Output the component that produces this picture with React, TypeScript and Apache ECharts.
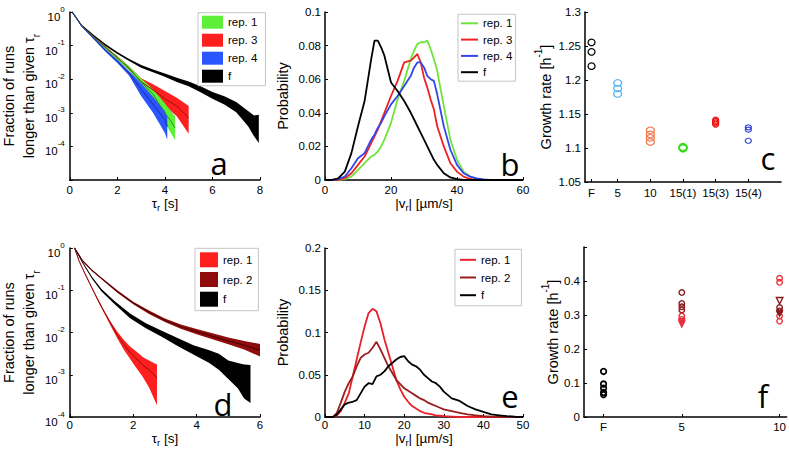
import React, { useEffect, useRef } from 'react';
import * as echarts from 'echarts';

// ---------------- Panel a : fraction of runs longer than tau_r (log10 values) ----------------
const aRep1X = [0.1, 0.5, 1, 1.5, 2, 2.5, 3, 3.5, 4, 4.25, 4.43];
const aRep1Hi = [0.02, -0.39, -0.72, -1.03, -1.32, -1.62, -1.98, -2.3, -2.72, -2.95, -3.1];
const aRep1Lo = [-0.02, -0.43, -0.78, -1.1, -1.42, -1.74, -2.18, -2.6, -3.3, -3.6, -3.82];
const aRep1Mean = [0, -0.41, -0.75, -1.06, -1.37, -1.68, -2.08, -2.45, -3.0, -3.25, -3.45];

const aRep3X = [0.1, 0.5, 1, 1.5, 2, 2.5, 3, 3.5, 4, 4.5, 5];
const aRep3Hi = [0.02, -0.39, -0.71, -1.02, -1.31, -1.62, -1.97, -2.15, -2.35, -2.55, -2.8];
const aRep3Lo = [-0.02, -0.43, -0.77, -1.09, -1.41, -1.74, -2.2, -2.5, -2.8, -3.1, -3.62];
const aRep3Mean = [0, -0.41, -0.74, -1.05, -1.36, -1.68, -2.08, -2.32, -2.58, -2.8, -3.15];

const aRep4X = [0.1, 0.5, 1, 1.5, 2, 2.5, 3, 3.5, 4, 4.1];
const aRep4Hi = [0.02, -0.4, -0.75, -1.1, -1.42, -1.76, -2.12, -2.52, -2.95, -3.1];
const aRep4Lo = [-0.02, -0.44, -0.81, -1.18, -1.52, -1.9, -2.5, -3.0, -3.6, -3.8];
const aRep4Mean = [0, -0.42, -0.78, -1.14, -1.47, -1.83, -2.3, -2.75, -3.2, -3.4];

const aFX = [0.1, 0.5, 1, 1.5, 2, 2.5, 3, 3.5, 4, 4.5, 5, 5.5, 6, 6.5, 7, 7.5, 7.75, 7.95];
const aFHi = [0.02, -0.38, -0.68, -0.95, -1.19, -1.4, -1.58, -1.71, -1.83, -1.96, -2.07, -2.21, -2.38, -2.51, -2.68, -2.95, -3.08, -3.06];
const aFLo = [-0.02, -0.42, -0.72, -1.01, -1.25, -1.46, -1.66, -1.79, -1.93, -2.08, -2.21, -2.39, -2.58, -2.75, -2.98, -3.4, -3.7, -3.9];

// ---------------- Panel b : speed distributions ----------------
const bX = [0, 2, 4, 6, 8, 10, 12, 14, 15, 16, 17, 18, 20, 22, 24, 26, 27, 28, 29, 30, 31, 32, 33, 34, 36, 38, 40, 42, 44, 46, 48, 50, 55, 60];
const bRep1 = [0, 0, 0, 0.0005, 0.002, 0.006, 0.01, 0.014, 0.015, 0.017, 0.02, 0.024, 0.034, 0.048, 0.059, 0.072, 0.077, 0.081, 0.082, 0.082, 0.083, 0.078, 0.072, 0.065, 0.044, 0.024, 0.012, 0.005, 0.002, 0.0006, 0.0002, 0, 0, 0];
const bRep3 = [0, 0, 0, 0.001, 0.004, 0.009, 0.014, 0.022, 0.026, 0.03, 0.035, 0.04, 0.05, 0.059, 0.07, 0.071, 0.073, 0.075, 0.07, 0.061, 0.055, 0.048, 0.042, 0.032, 0.02, 0.01, 0.005, 0.002, 0.0006, 0, 0, 0, 0, 0];
const bRep4 = [0, 0, 0.0005, 0.002, 0.007, 0.013, 0.016, 0.024, 0.027, 0.031, 0.034, 0.038, 0.045, 0.05, 0.056, 0.062, 0.067, 0.07, 0.07, 0.067, 0.062, 0.06, 0.059, 0.051, 0.032, 0.018, 0.009, 0.004, 0.002, 0.001, 0.0003, 0, 0, 0];
const bF = [0, 0, 0.001, 0.005, 0.016, 0.032, 0.047, 0.072, 0.083, 0.083, 0.079, 0.074, 0.058, 0.053, 0.047, 0.04, 0.036, 0.032, 0.028, 0.024, 0.02, 0.016, 0.012, 0.009, 0.004, 0.0015, 0.0005, 0, 0, 0, 0, 0, 0, 0];

// ---------------- Panel c : growth rates ----------------
const cCatPos = [0.2, 1, 2, 3, 4, 5];
const cCatLabels = ['F', '5', '10', '15(1)', '15(3)', '15(4)'];
const cF = [1.2553, 1.2414, 1.2204];
const c5 = [1.1957, 1.1875, 1.1795];
const c10 = [1.126, 1.12, 1.115, 1.109];
const c15r1 = [1.0995, 1.1005, 1.1015];
const c15r3 = [1.135, 1.137, 1.139, 1.141];
const c15r4 = [1.1304, 1.127, 1.1106];

// ---------------- Panel d : fraction of runs (log10 values) ----------------
const dRep1X = [0.15, 0.3, 0.5, 0.7, 0.9, 1.1, 1.3, 1.5, 1.7, 1.9, 2.1, 2.3, 2.5, 2.75];
const dRep1Hi = [0.02, -0.3, -0.62, -0.93, -1.22, -1.5, -1.76, -1.98, -2.17, -2.33, -2.45, -2.58, -2.66, -2.76];
const dRep1Lo = [-0.02, -0.34, -0.66, -0.97, -1.28, -1.57, -1.86, -2.14, -2.4, -2.62, -2.84, -3.05, -3.3, -3.72];
const dRep1Mean = [0, -0.32, -0.64, -0.95, -1.25, -1.53, -1.8, -2.06, -2.28, -2.47, -2.62, -2.77, -2.88, -3.08];

const dRep2X = [0.15, 0.4, 0.7, 1, 1.5, 2, 2.5, 3, 3.5, 4, 4.5, 5, 5.5, 6];
const dRep2Hi = [0.02, -0.28, -0.51, -0.7, -1.0, -1.27, -1.48, -1.67, -1.81, -1.92, -2.02, -2.12, -2.2, -2.27];
const dRep2Lo = [-0.02, -0.32, -0.55, -0.74, -1.06, -1.33, -1.56, -1.75, -1.91, -2.04, -2.16, -2.28, -2.4, -2.57];
const dRep2Mean = [0, -0.3, -0.53, -0.72, -1.03, -1.3, -1.52, -1.71, -1.86, -1.98, -2.09, -2.2, -2.3, -2.42];

const dFX = [0.15, 0.4, 0.7, 1, 1.4, 1.9, 2.4, 2.9, 3.4, 3.9, 4.4, 4.7, 5, 5.3, 5.5, 5.7];
const dFHi = [0.02, -0.32, -0.68, -0.97, -1.25, -1.55, -1.78, -1.96, -2.13, -2.3, -2.42, -2.5, -2.66, -2.72, -2.76, -2.77];
const dFLo = [-0.02, -0.36, -0.73, -1.03, -1.32, -1.66, -1.9, -2.1, -2.32, -2.52, -2.72, -2.88, -3.1, -3.32, -3.56, -3.67];

// ---------------- Panel e : speed distributions ----------------
const eX = [0, 2, 3, 4, 5, 6, 7, 8, 9, 10, 11, 12, 13, 14, 15, 16, 17, 18, 19, 20, 21, 22, 23, 24, 25, 26, 27, 28, 29, 30, 32, 34, 36, 38, 40, 42, 44, 46, 48, 50];
const eRep1 = [0, 0, 0.002, 0.007, 0.017, 0.028, 0.048, 0.068, 0.088, 0.107, 0.123, 0.128, 0.125, 0.111, 0.092, 0.076, 0.06, 0.044, 0.033, 0.024, 0.018, 0.013, 0.01, 0.007, 0.005, 0.004, 0.003, 0.002, 0.0015, 0.001, 0.0005, 0, 0, 0, 0, 0, 0, 0, 0, 0];
const eRep2 = [0, 0, 0.005, 0.017, 0.03, 0.04, 0.048, 0.06, 0.07, 0.074, 0.076, 0.082, 0.089, 0.08, 0.07, 0.06, 0.052, 0.044, 0.039, 0.034, 0.031, 0.028, 0.025, 0.022, 0.02, 0.017, 0.015, 0.013, 0.011, 0.009, 0.007, 0.005, 0.003, 0.002, 0.001, 0.0005, 0, 0, 0, 0];
const eF = [0, 0, 0.003, 0.009, 0.015, 0.017, 0.018, 0.02, 0.028, 0.036, 0.04, 0.039, 0.048, 0.05, 0.054, 0.06, 0.064, 0.068, 0.071, 0.072, 0.066, 0.062, 0.06, 0.056, 0.05, 0.046, 0.042, 0.04, 0.036, 0.03, 0.022, 0.019, 0.013, 0.009, 0.006, 0.003, 0.002, 0.001, 0.0003, 0];

// ---------------- Panel f : growth rates ----------------
const fCatPos = [1, 5, 10];
const fCatLabels = ['F', '5', '10'];
const fFCircles = [0.134, 0.097, 0.085, 0.072, 0.066];
const f5DarkCircles = [0.366, 0.334, 0.324, 0.315];
const f5RedCircles = [0.297, 0.287];
const f5RedTriangles = [0.279, 0.273];
const f10RedCircles = [0.408, 0.396, 0.297, 0.282];
const f10DarkCircles = [0.322, 0.312];
const f10DarkOpenTriangles = [0.342];
const f10DarkTriangles = [0.305];

const FONT = '"Liberation Sans", Arial, sans-serif';
const TICK_FS = 11.5;

const pow10 = (arr: number[]) => arr.map((v) => Math.pow(10, v));

function bandSeries(name: string, idx: number, xs: number[], loLog: number[], hiLog: number[], color: string) {
  const lo = pow10(loLog);
  const hi = pow10(hiLog);
  return {
    type: 'custom',
    name,
    xAxisIndex: idx,
    yAxisIndex: idx,
    data: xs.map((x, i) => [x, lo[i], hi[i]]),
    encode: { x: 0, y: [1, 2] },
    itemStyle: { color },
    silent: true,
    renderItem: (params: any, api: any) => {
      if (params.dataIndex !== 0) return;
      const top = xs.map((x, i) => api.coord([x, hi[i]]));
      const bot = xs.map((x, i) => api.coord([x, lo[i]])).reverse();
      return { type: 'polygon', shape: { points: top.concat(bot) }, style: { fill: color } };
    },
  };
}

function meanLine(idx: number, xs: number[], meanLog: number[], color: string) {
  const m = pow10(meanLog);
  return {
    type: 'line',
    xAxisIndex: idx,
    yAxisIndex: idx,
    data: xs.map((x, i) => [x, m[i]]),
    symbol: 'none',
    silent: true,
    lineStyle: { color, width: 1 },
  };
}

function curve(name: string, idx: number, xs: number[], ys: number[], color: string) {
  return {
    type: 'line',
    name,
    xAxisIndex: idx,
    yAxisIndex: idx,
    data: xs.map((x, i) => [x, ys[i]]),
    symbol: 'none',
    silent: true,
    itemStyle: { color },
    lineStyle: { color, width: 1.8 },
  };
}

function dots(idx: number, xPos: number, ys: number[], color: string, size: any, bw: number, symbol = 'circle', filled = false, rotate = 0) {
  return {
    type: 'scatter',
    xAxisIndex: idx,
    yAxisIndex: idx,
    data: ys.map((y) => [xPos, y]),
    symbol,
    symbolSize: size,
    symbolRotate: rotate,
    silent: true,
    itemStyle: { color: filled ? color : 'rgba(0,0,0,0)', borderColor: color, borderWidth: bw, opacity: 1 },
  };
}

const tickLabel = { color: '#000', fontFamily: FONT, fontSize: TICK_FS, margin: 4 };
const tickLabelLow = { ...tickLabel, margin: 2 };

function axisBase(gridIndex: number) {
  return {
    gridIndex,
    nameLocation: 'middle',
    axisLine: { show: true, onZero: false, lineStyle: { color: '#000', width: 1.5 } },
    axisTick: { show: true, inside: true, length: 3, lineStyle: { color: '#000', width: 1 } },
    splitLine: { show: false },
  };
}

const xNameStyle = {
  fontFamily: FONT,
  fontSize: 13.5,
  color: '#000',
  rich: {
    m: { fontFamily: FONT, fontSize: 13.5, color: '#000', lineHeight: 16, verticalAlign: 'top' },
    r: { fontFamily: FONT, fontSize: 9.5, color: '#000', lineHeight: 8, verticalAlign: 'bottom' },
  },
};

const yNameStyle = {
  fontFamily: FONT,
  fontSize: 14.5,
  color: '#000',
  lineHeight: 20,
  rich: {
    m: { fontFamily: FONT, fontSize: 14.5, color: '#000', lineHeight: 20, verticalAlign: 'top' },
    r: { fontFamily: FONT, fontSize: 10, color: '#000', lineHeight: 10, verticalAlign: 'bottom' },
    g: { fontFamily: FONT, fontSize: 14.5, color: '#000', lineHeight: 20, verticalAlign: 'bottom' },
    s: { fontFamily: FONT, fontSize: 10, color: '#000', lineHeight: 10, verticalAlign: 'top' },
  },
};

const logLabel = {
  color: '#000',
  fontFamily: FONT,
  margin: 5,
  padding: [4, 0, 0, 0],
  formatter: (v: number) => {
    const e = Math.round(Math.log10(v));
    if (e < -4) return '';
    return `{b|10}{s|${e}}`;
  },
  rich: {
    b: { fontFamily: FONT, fontSize: TICK_FS, color: '#000', lineHeight: 18, verticalAlign: 'bottom', align: 'left' },
    s: { fontFamily: FONT, fontSize: 8, color: '#000', lineHeight: 8, verticalAlign: 'top', align: 'left' },
  },
};

function legend(left: number, top: number, names: string[], colors: string[], opts: any) {
  return {
    orient: 'vertical',
    left,
    top,
    selectedMode: false,
    icon: 'rect',
    backgroundColor: '#fff',
    borderColor: '#c4c4c4',
    borderWidth: 1,
    borderRadius: 0,
    textStyle: { color: '#000', fontFamily: FONT, fontSize: 11.5 },
    formatter: (n: string) => n.slice(2),
    data: names.map((n, i) => ({ name: n, itemStyle: { color: colors[i], borderWidth: 0 } })),
    ...opts,
  };
}

export default function App() {
  const ref = useRef<HTMLDivElement>(null);
  useEffect(() => {
    if (!ref.current) return;
    const chart = echarts.init(ref.current, null, { renderer: 'svg' });

    const GREEN = '#5cf03a';
    const RED = '#ff1f1f';
    const BLUE = '#2b55ff';
    const DRED = '#8e0c0c';
    const LGREEN = '#6ee43a';
    const LRED = '#ee2222';
    const LBLUE = '#3344ee';
    const LETTER_FONT = '"Open Sans", sans-serif';

    const letter = (t: string, x: number, y: number) => ({
      type: 'text', x, y,
      style: { text: t, fontSize: 31, fontFamily: LETTER_FONT, fill: '#000', align: 'center', verticalAlign: 'middle' },
    });

    const option: any = {
      animation: false,
      backgroundColor: '#fff',
      grid: [
        { left: 66, top: 12, width: 194, height: 168 },
        { left: 325, top: 12, width: 198, height: 168 },
        { left: 585, top: 12, width: 196, height: 170 },
        { left: 65, top: 248, width: 195, height: 169 },
        { left: 325, top: 248, width: 198, height: 169 },
        { left: 584, top: 247, width: 204, height: 170 },
      ],
      xAxis: [
        { ...axisBase(0), type: 'value', min: 0, max: 8, interval: 2, axisLabel: tickLabel, name: '{m|τ}{r|r}{m| [s]}', nameGap: 14, nameTextStyle: xNameStyle },
        { ...axisBase(1), type: 'value', min: 0, max: 60, interval: 20, axisLabel: tickLabel, name: '{m||v}{r|r}{m|| [µm/s]}', nameGap: 14, nameTextStyle: xNameStyle },
        {
          ...axisBase(2), type: 'value', min: 0, max: 6,
          axisTick: { show: true, inside: true, length: 3, lineStyle: { color: '#000', width: 1 }, customValues: cCatPos },
          axisLabel: { ...tickLabel, margin: 5, customValues: cCatPos, formatter: (v: number) => { const i = cCatPos.findIndex((p) => Math.abs(p - v) < 1e-6); return i >= 0 ? cCatLabels[i] : ''; } },
        },
        { ...axisBase(3), type: 'value', min: 0, max: 6, interval: 2, axisLabel: tickLabelLow, name: '{m|τ}{r|r}{m| [s]}', nameGap: 5, nameTextStyle: xNameStyle },
        { ...axisBase(4), type: 'value', min: 0, max: 50, interval: 10, axisLabel: tickLabelLow, name: '{m||v}{r|r}{m|| [µm/s]}', nameGap: 3, nameTextStyle: xNameStyle },
        {
          ...axisBase(5), type: 'value', min: 0, max: 10.36,
          axisTick: { show: true, inside: true, length: 3, lineStyle: { color: '#000', width: 1 }, customValues: fCatPos },
          axisLabel: { ...tickLabel, margin: 4, customValues: fCatPos, formatter: (v: number) => { const i = fCatPos.findIndex((p) => Math.abs(p - v) < 1e-6); return i >= 0 ? fCatLabels[i] : ''; } },
        },
      ],
      yAxis: [
        { ...axisBase(0), type: 'log', logBase: 10, min: 1e-5, max: 1, splitNumber: 5, axisLabel: logLabel, name: '{m|Fraction of runs}\n{m|longer than given τ}{r|r}', nameGap: 24, nameTextStyle: yNameStyle },
        { ...axisBase(1), type: 'value', min: 0, max: 0.1, interval: 0.02, axisLabel: tickLabel, name: 'Probability', nameGap: 32, nameTextStyle: yNameStyle },
        { ...axisBase(2), type: 'value', min: 1.05, max: 1.3, interval: 0.05, axisLabel: tickLabel, name: '{g|Growth rate [h}{s|-1}{g|]}', nameGap: 32, nameTextStyle: yNameStyle },
        { ...axisBase(3), type: 'log', logBase: 10, min: 1e-4, max: 1, splitNumber: 4, axisLabel: logLabel, name: '{m|Fraction of runs}\n{m|longer than given τ}{r|r}', nameGap: 25, nameTextStyle: yNameStyle },
        { ...axisBase(4), type: 'value', min: 0, max: 0.2, interval: 0.05, axisLabel: tickLabel, name: 'Probability', nameGap: 32, nameTextStyle: yNameStyle },
        { ...axisBase(5), type: 'value', min: 0, max: 0.5, interval: 0.1, axisLabel: { ...tickLabel, formatter: (v: number) => (v > 0.45 ? '' : String(Math.round(v * 10) / 10)) }, name: '{g|Growth rate [h}{s|-1}{g|]}', nameGap: 24, nameTextStyle: yNameStyle },
      ],
      legend: [
        legend(198, 12.7, ['a:rep. 1', 'a:rep. 3', 'a:rep. 4', 'a:f'], [GREEN, RED, BLUE, '#000'], { itemWidth: 21, itemHeight: 13, itemGap: 5, padding: [3, 8, 3, 4] }),
        legend(458, 14.3, ['b:rep. 1', 'b:rep. 3', 'b:rep. 4', 'b:f'], [LGREEN, LRED, LBLUE, '#000'], { itemWidth: 17, itemHeight: 2, itemGap: 4.3, padding: [3, 3, 3, 3] }),
        legend(195, 248.3, ['d:rep. 1', 'd:rep. 2', 'd:f'], [RED, DRED, '#000'], { itemWidth: 18, itemHeight: 15, itemGap: 4.7, padding: [4, 6, 4, 5] }),
        legend(455, 249.3, ['e:rep. 1', 'e:rep. 2', 'e:f'], ['#e8202a', '#9a1e1e', '#000'], { itemWidth: 16, itemHeight: 2, itemGap: 5.7, padding: [4.5, 11, 4.5, 5] }),
      ],
      series: [
        // panel a
        bandSeries('a:rep. 3', 0, aRep3X, aRep3Lo, aRep3Hi, RED),
        meanLine(0, aRep3X, aRep3Mean, '#9a1010'),
        bandSeries('a:rep. 1', 0, aRep1X, aRep1Lo, aRep1Hi, GREEN),
        meanLine(0, aRep1X, aRep1Mean, '#3a8a20'),
        bandSeries('a:rep. 4', 0, aRep4X, aRep4Lo, aRep4Hi, BLUE),
        meanLine(0, aRep4X, aRep4Mean, '#1a30a0'),
        bandSeries('a:f', 0, aFX, aFLo, aFHi, '#000'),
        // panel b
        curve('b:rep. 1', 1, bX, bRep1, LGREEN),
        curve('b:rep. 3', 1, bX, bRep3, LRED),
        curve('b:rep. 4', 1, bX, bRep4, LBLUE),
        curve('b:f', 1, bX, bF, '#000'),
        // panel c
        dots(2, cCatPos[0], cF, '#000', [7, 6.5], 1.2),
        dots(2, cCatPos[1], c5, '#55b4f0', [8, 6.5], 1.2),
        dots(2, cCatPos[2], c10, '#f07a50', [8, 6.5], 1.2),
        dots(2, cCatPos[3], c15r1, '#33dd11', [8, 7], 1.3),
        dots(2, cCatPos[4], c15r3, '#ee1111', [6, 6], 1.2),
        dots(2, cCatPos[5], c15r4, '#3344dd', [6, 5], 1.2),
        // panel d
        bandSeries('d:rep. 1', 3, dRep1X, dRep1Lo, dRep1Hi, RED),
        meanLine(3, dRep1X, dRep1Mean, '#8a1010'),
        bandSeries('d:rep. 2', 3, dRep2X, dRep2Lo, dRep2Hi, DRED),
        meanLine(3, dRep2X, dRep2Mean, '#4a0000'),
        bandSeries('d:f', 3, dFX, dFLo, dFHi, '#000'),
        // panel e
        curve('e:rep. 1', 4, eX, eRep1, '#e8202a'),
        curve('e:rep. 2', 4, eX, eRep2, '#9a1e1e'),
        curve('e:f', 4, eX, eF, '#000'),
        // panel f
        dots(5, fCatPos[0], fFCircles, '#000', 5.5, 1.8),
        dots(5, fCatPos[1], f5DarkCircles, '#8b1a1a', 5.5, 1.4),
        dots(5, fCatPos[1], f5RedCircles, '#e8303a', 5.5, 1.4),
        dots(5, fCatPos[1], f5RedTriangles, '#e8303a', 6, 1.2, 'triangle', true, 180),
        dots(5, fCatPos[2], f10RedCircles, '#e8303a', 5.5, 1.4),
        dots(5, fCatPos[2], f10DarkCircles, '#8b1a1a', 5.5, 1.4),
        dots(5, fCatPos[2], f10DarkOpenTriangles, '#8b1a1a', 6.5, 1.4, 'triangle', false, 180),
        dots(5, fCatPos[2], f10DarkTriangles, '#8b1a1a', 6, 1.2, 'triangle', true, 180),
      ],
      graphic: [
        letter('a', 219, 163),
        letter('b', 510, 164),
        letter('c', 768, 158),
        letter('d', 223, 404),
        letter('e', 510, 396),
        letter('f', 763, 396),
      ],
    };
    chart.setOption(option);
    return () => chart.dispose();
  }, []);
  return <div ref={ref} style={{ position: 'fixed', left: 0, top: 0, width: 789, height: 460, background: '#fff' }} />;
}
